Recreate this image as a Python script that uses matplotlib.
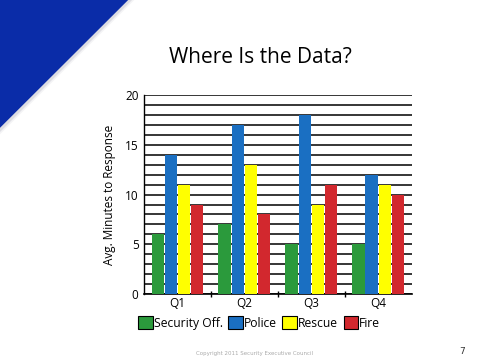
import matplotlib.pyplot as plt
import numpy as np
from matplotlib.patches import Polygon

quarters = ["Q1", "Q2", "Q3", "Q4"]
series = ["Security Off.", "Police", "Rescue", "Fire"]
security = [6, 7, 5, 5]
police = [14, 17, 18, 12]
rescue = [11, 13, 9, 11]
fire = [9, 8, 11, 10]
colors = ["#2b9a3c", "#1a6fc2", "#ffff00", "#d2282e"]

fig = plt.figure(figsize=(4.8, 3.6), dpi=100)

# blue corner triangle with soft shadow
for i, a in enumerate([0.06, 0.12]):
    off = 0.005 * (2 - i)
    fig.patches.append(Polygon([[0, 1], [0.27 + off, 1], [0, 1 - 0.36 - off * 1.33]],
                               closed=True, transform=fig.transFigure,
                               facecolor="#404060", alpha=a, edgecolor="none"))
fig.patches.append(Polygon([[0, 1], [0.267, 1], [0, 0.645]], closed=True,
                           transform=fig.transFigure, facecolor="#0a2ca8",
                           edgecolor="none"))

fig.text(0.542, 0.84, "Where Is the Data?", ha="center", va="center",
         fontsize=15, family="Open Sans")

ax = fig.add_axes([0.30, 0.183, 0.558, 0.553])
x = np.arange(len(quarters))
w = 0.19
data = [security, police, rescue, fire]
for i, (vals, c, name) in enumerate(zip(data, colors, series)):
    ax.bar(x + (i - 1.5) * (w + 0.005), vals, w, color=c, label=name, zorder=3)

ax.set_xlim(-0.5, 3.5)
ax.set_ylim(0, 20)
ax.set_yticks([0, 5, 10, 15, 20])
ax.set_yticks(np.arange(0, 21, 1), minor=True)
ax.yaxis.grid(True, which="both", color="black", linewidth=1.1, zorder=0)
ax.set_axisbelow(True)
ax.tick_params(axis="y", which="both", length=0, labelsize=8.5, pad=4)
ax.set_xticks(x)
ax.set_xticklabels(quarters, fontsize=8.5, family="Open Sans")
ax.set_xticks([0.5, 1.5, 2.5], minor=True)
ax.tick_params(axis="x", which="major", length=0, pad=2)
ax.tick_params(axis="x", which="minor", length=4, width=1, direction="inout")
for lbl in ax.get_yticklabels():
    lbl.set_family("Open Sans")
for s in ["top", "right"]:
    ax.spines[s].set_visible(False)
ax.spines["left"].set_linewidth(1)
ax.spines["bottom"].set_linewidth(1.2)
ax.set_ylabel("Avg. Minutes to Response", fontsize=8.5, family="Open Sans", labelpad=6)

leg = fig.legend(loc="center", bbox_to_anchor=(0.54, 0.103), ncol=4, frameon=False,
                 handlelength=1.2, handleheight=1.2, handletextpad=0.1,
                 columnspacing=0.45, borderaxespad=0, prop={"family": "Open Sans", "size": 8.7})
for h in leg.legend_handles:
    h.set_edgecolor("black")
    h.set_linewidth(0.8)

fig.text(0.53, 0.018, "Copyright 2011 Security Executive Council", ha="center",
         va="center", fontsize=4, color="#aaaaaa")
fig.text(0.963, 0.025, "7", ha="center", va="center", fontsize=6.5, color="#333333")

fig.savefig("out.png", dpi=100)
